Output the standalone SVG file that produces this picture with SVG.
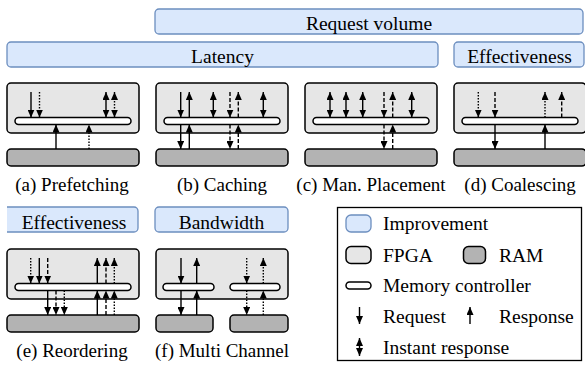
<svg xmlns="http://www.w3.org/2000/svg" width="585" height="370" viewBox="0 0 585 370">
  <style>
    text { font-family: 'Liberation Serif', 'Times New Roman', serif; font-size: 19.5px; fill: #000; }
    .mid { text-anchor: middle; }
    .cap { font-size: 19px; }
    .bar { fill: #dae8fc; stroke: #6c8ebf; stroke-width: 1.3; }
    .barline { fill: none; stroke: #6c8ebf; stroke-width: 1.3; }
    .fpga { fill: #e6e6e6; stroke: #000; stroke-width: 1.5; }
    .ram { fill: #b3b3b3; stroke: #000; stroke-width: 1.5; }
    .mc { fill: #fff; stroke: #000; stroke-width: 1.5; }
    .a { fill: none; stroke: #000; stroke-width: 1.4; marker-end: url(#ah); }
    .d { marker-start: url(#ah); }
    .dash { stroke-dasharray: 4 2; }
    .dot { stroke-dasharray: 1.5 1.5; }
    .legend { fill: #fff; stroke: #000; stroke-width: 1.3; }
  </style>
  <defs>
    <marker id="ah" viewBox="0 0 8 7" refX="8" refY="3.5" markerWidth="8" markerHeight="7" markerUnits="userSpaceOnUse" orient="auto-start-reverse">
      <path d="M0,0 L8,3.5 L0,7 z" fill="#000"/>
    </marker>
  </defs>

  <!-- improvement bars -->
  <g id="bar-request-volume">
    <rect class="bar" x="155" y="9" width="428" height="25" rx="4"/>
    <text class="mid" x="369" y="29.5">Request volume</text>
  </g>
  <g id="bar-latency">
    <rect class="bar" x="7" y="42" width="431" height="25" rx="4"/>
    <text class="mid" x="222.5" y="62.5">Latency</text>
  </g>
  <g id="bar-effectiveness-d">
    <rect class="bar" x="454" y="42" width="130" height="25" rx="4"/>
    <text class="mid" x="519.5" y="62.5">Effectiveness</text>
  </g>
  <g id="bar-effectiveness-e">
    <path d="M7,207 H134 A4,4 0 0 1 138,211 V228 A4,4 0 0 1 134,232 H7 Z" fill="#dae8fc"/>
    <path class="barline" d="M7,207 H134 A4,4 0 0 1 138,211 V228 A4,4 0 0 1 134,232 H7"/>
    <text class="mid" x="74" y="228.5">Effectiveness</text>
  </g>
  <g id="bar-bandwidth">
    <rect class="bar" x="155" y="207" width="133" height="25" rx="4"/>
    <text class="mid" x="221.5" y="228.5">Bandwidth</text>
  </g>

  <!-- (a) Prefetching -->
  <g id="panel-a">
    <rect class="fpga" x="7" y="83" width="132" height="50" rx="4"/>
    <rect class="ram" x="7" y="149" width="132" height="17" rx="4"/>
    <rect class="mc" x="15" y="117.5" width="116" height="7" rx="3.5"/>
    <text class="mid cap" x="72" y="191">(a) Prefetching</text>
  </g>
  <!-- (b) Caching -->
  <g id="panel-b">
    <rect class="fpga" x="156" y="83" width="132" height="50" rx="4"/>
    <rect class="ram" x="156" y="149" width="132" height="17" rx="4"/>
    <rect class="mc" x="164" y="117.5" width="116" height="7" rx="3.5"/>
    <text class="mid cap" x="222" y="191">(b) Caching</text>
  </g>
  <!-- (c) Manual placement -->
  <g id="panel-c">
    <rect class="fpga" x="305" y="83" width="132" height="50" rx="4"/>
    <rect class="ram" x="305" y="149" width="132" height="17" rx="4"/>
    <rect class="mc" x="313" y="117.5" width="116" height="7" rx="3.5"/>
    <text class="mid cap" x="371" y="191">(c) Man. Placement</text>
  </g>
  <!-- (d) Coalescing -->
  <g id="panel-d">
    <rect class="fpga" x="454" y="83" width="132" height="50" rx="4"/>
    <rect class="ram" x="454" y="149" width="132" height="17" rx="4"/>
    <rect class="mc" x="462" y="117.5" width="116" height="7" rx="3.5"/>
    <text class="mid cap" x="520" y="191">(d) Coalescing</text>
  </g>
  <!-- (e) Reordering -->
  <g id="panel-e">
    <rect class="fpga" x="7" y="249" width="132" height="50" rx="4"/>
    <rect class="ram" x="7" y="315" width="132" height="17" rx="4"/>
    <rect class="mc" x="15" y="283.5" width="116" height="7" rx="3.5"/>
    <text class="mid cap" x="72" y="357">(e) Reordering</text>
  </g>
  <!-- (f) Multi channel -->
  <g id="panel-f">
    <rect class="fpga" x="156" y="249" width="132" height="50" rx="4"/>
    <rect class="ram" x="156" y="315" width="57" height="17" rx="4"/>
    <rect class="ram" x="230" y="315" width="58" height="17" rx="4"/>
    <rect class="mc" x="163" y="283.5" width="51" height="7" rx="3.5"/>
    <rect class="mc" x="230" y="283.5" width="50" height="7" rx="3.5"/>
    <text class="mid cap" x="222" y="357">(f) Multi Channel</text>
  </g>

  <!-- requests and responses -->
  <g id="connectors">
    <!-- (a) -->
    <line class="a" x1="31" y1="92" x2="31" y2="117.5"/>
    <line class="a dot" x1="39.5" y1="92" x2="39.5" y2="117.5"/>
    <line class="a d" x1="106" y1="92" x2="106" y2="117.5"/>
    <line class="a d dot" x1="114.5" y1="92" x2="114.5" y2="117.5"/>
    <line class="a" x1="56" y1="149" x2="56" y2="124.5"/>
    <line class="a dot" x1="89" y1="149" x2="89" y2="124.5"/>
    <!-- (b) -->
    <line class="a" x1="180.7" y1="92" x2="180.7" y2="117.5"/>
    <line class="a" x1="180.7" y1="124.5" x2="180.7" y2="149"/>
    <line class="a" x1="189.3" y1="117.5" x2="189.3" y2="92"/>
    <line class="a" x1="189.3" y1="149" x2="189.3" y2="124.5"/>
    <line class="a d" x1="213.3" y1="92" x2="213.3" y2="117.5"/>
    <line class="a dash" x1="230" y1="92" x2="230" y2="117.5"/>
    <line class="a dash" x1="230" y1="124.5" x2="230" y2="149"/>
    <line class="a dash" x1="238.3" y1="117.5" x2="238.3" y2="92"/>
    <line class="a dash" x1="238.3" y1="149" x2="238.3" y2="124.5"/>
    <line class="a d" x1="263.3" y1="92" x2="263.3" y2="117.5"/>
    <!-- (c) -->
    <line class="a d" x1="330" y1="92" x2="330" y2="117.5"/>
    <line class="a d" x1="346" y1="92" x2="346" y2="117.5"/>
    <line class="a d" x1="362.7" y1="92" x2="362.7" y2="117.5"/>
    <line class="a dash" x1="384" y1="92" x2="384" y2="117.5"/>
    <line class="a dash" x1="384" y1="124.5" x2="384" y2="149"/>
    <line class="a dash" x1="392.7" y1="117.5" x2="392.7" y2="92"/>
    <line class="a dash" x1="392.7" y1="149" x2="392.7" y2="124.5"/>
    <line class="a d" x1="411.7" y1="92" x2="411.7" y2="117.5"/>
    <!-- (d) -->
    <line class="a dot" x1="478.3" y1="92" x2="478.3" y2="117.5"/>
    <line class="a dash" x1="495" y1="92" x2="495" y2="117.5"/>
    <line class="a" x1="495" y1="124.5" x2="495" y2="149"/>
    <line class="a dot" x1="545" y1="117.5" x2="545" y2="92"/>
    <line class="a" x1="545" y1="149" x2="545" y2="124.5"/>
    <line class="a dash" x1="561.7" y1="117.5" x2="561.7" y2="92"/>
    <!-- (e) -->
    <line class="a dot" x1="30.7" y1="258" x2="30.7" y2="283.5"/>
    <line class="a" x1="39.3" y1="258" x2="39.3" y2="283.5"/>
    <line class="a dash" x1="47.7" y1="258" x2="47.7" y2="283.5"/>
    <line class="a" x1="47.7" y1="290.5" x2="47.7" y2="315"/>
    <line class="a dash" x1="56" y1="290.5" x2="56" y2="315"/>
    <line class="a dot" x1="64.3" y1="290.5" x2="64.3" y2="315"/>
    <line class="a" x1="97.3" y1="283.5" x2="97.3" y2="258"/>
    <line class="a dash" x1="106" y1="283.5" x2="106" y2="258"/>
    <line class="a dot" x1="114.3" y1="283.5" x2="114.3" y2="258"/>
    <line class="a" x1="97.3" y1="315" x2="97.3" y2="290.5"/>
    <line class="a dash" x1="106" y1="315" x2="106" y2="290.5"/>
    <line class="a dot" x1="114.3" y1="315" x2="114.3" y2="290.5"/>
    <!-- (f) -->
    <line class="a" x1="181" y1="258" x2="181" y2="283.5"/>
    <line class="a" x1="181" y1="290.5" x2="181" y2="315"/>
    <line class="a" x1="196.7" y1="283.5" x2="196.7" y2="258"/>
    <line class="a" x1="196.7" y1="315" x2="196.7" y2="290.5"/>
    <line class="a dot" x1="246.7" y1="258" x2="246.7" y2="283.5"/>
    <line class="a dot" x1="246.7" y1="290.5" x2="246.7" y2="315"/>
    <line class="a dot" x1="263.3" y1="283.5" x2="263.3" y2="258"/>
    <line class="a dot" x1="263.3" y1="315" x2="263.3" y2="290.5"/>
  </g>

  <!-- legend -->
  <g id="legend">
    <rect class="legend" x="337.5" y="207.5" width="244" height="153"/>
    <rect class="bar" x="346" y="215" width="25" height="17" rx="5"/>
    <text x="383" y="230">Improvement</text>
    <rect class="fpga" x="346" y="246.5" width="25" height="17" rx="5"/>
    <text x="383" y="261.5">FPGA</text>
    <rect class="ram" x="463.5" y="246.5" width="22" height="17" rx="5"/>
    <text x="499" y="261.5">RAM</text>
    <rect class="mc" x="346" y="282" width="25" height="7" rx="3.5"/>
    <text x="383" y="292">Memory controller</text>
    <line class="a" x1="359.5" y1="307" x2="359.5" y2="324"/>
    <text x="383" y="322.5">Request</text>
    <line class="a" x1="470" y1="324" x2="470" y2="307"/>
    <text x="499" y="322.5">Response</text>
    <line class="a d" x1="359.5" y1="338" x2="359.5" y2="356"/>
    <text x="383" y="353.5">Instant response</text>
  </g>
</svg>
